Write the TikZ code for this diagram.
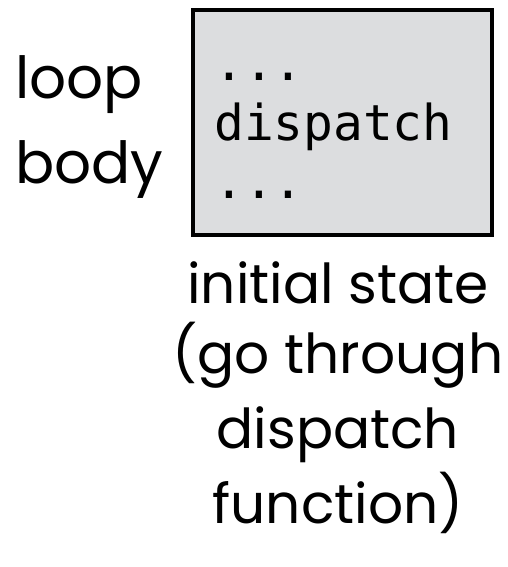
\documentclass[tikz,border=0pt]{standalone}
\usepackage{fontspec}
\setmainfont{Poppins}
\setmonofont{DejaVu Sans Mono}
\usepackage{tikz}
\definecolor{boxgray}{HTML}{DCDDDF}

\begin{document}
\begin{tikzpicture}[x=1pt,y=-1pt,inner sep=0pt,
    word/.style={font=\fontsize{55}{60}\selectfont},
    code/.style={font=\ttfamily\fontsize{49.5}{55}\selectfont, anchor=base west}]
    \useasboundingbox (0,0) rectangle (508,567);
    \node[draw, fill=boxgray, line width=4pt, minimum width=299pt, minimum height=225pt] (box) at (342.5,122.5) {};
    \node[code] (c1) at (214,81) {...};
    \node[code] (c2) at (214,140) {dispatch};
    \node[code] (c3) at (214,198) {...};
    \node[word, anchor=base west, font=\fontsize{58}{62}\selectfont] (loop) at (15,99) {loop};
    \node[word, anchor=base west, font=\fontsize{58}{62}\selectfont] (body) at (15,183) {body};
    \node[word, anchor=base] (l1) at (338,303) {initial state};
    \node[word, anchor=base] (l2) at (338,373) {(go through};
    \node[word, anchor=base] (l3) at (338,448) {dispatch};
    \node[word, anchor=base] (l4) at (338,523) {function)};
\end{tikzpicture}
\end{document}
